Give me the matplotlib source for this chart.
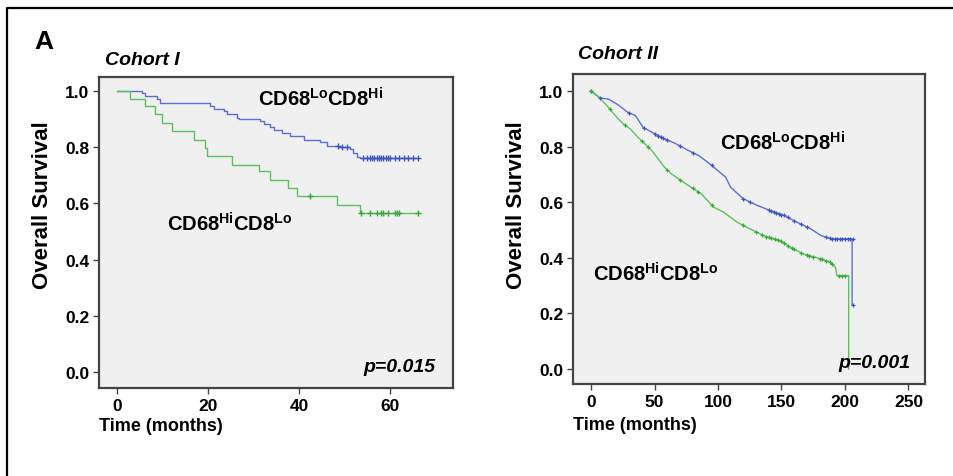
import matplotlib
matplotlib.use('Agg')
import matplotlib.pyplot as plt
from matplotlib.lines import Line2D
import numpy as np

# Cohort I (step curves)
c1_lo_t = [0, 5.4, 6.2, 8.7, 9.5, 20.3, 21.2, 23.4, 24.1, 26.3, 26.7, 31.4, 32.2, 33.6,
           34.4, 36.2, 38.0, 41.0, 44.6, 46.1, 48.6, 51.2, 51.9, 52.7, 53.4, 66.2]
c1_lo_s = [1.0, 0.992, 0.982, 0.970, 0.956, 0.946, 0.937, 0.929, 0.917, 0.905, 0.899, 0.893,
           0.883, 0.873, 0.863, 0.851, 0.839, 0.827, 0.818, 0.806, 0.801, 0.792, 0.780, 0.765,
           0.760, 0.760]
c1_lo_cens = [48.5, 49.5, 50.5, 54, 55, 55.5, 56, 56.5, 57, 57.5, 58, 58.5, 59, 59.5, 60,
              61, 62, 63, 64, 65, 66.2]
c1_hi_t = [0, 2.9, 6.2, 8.4, 9.8, 12.0, 16.8, 19.3, 19.7, 25.2, 31.1, 33.6, 37.6, 39.5,
           48.3, 53.4, 66.2]
c1_hi_s = [1.0, 0.973, 0.946, 0.917, 0.887, 0.857, 0.827, 0.798, 0.768, 0.738, 0.714, 0.685,
           0.655, 0.627, 0.595, 0.565, 0.565]
c1_hi_cens = [42.4, 53.6, 55.5, 57, 58, 58.5, 59.5, 61, 61.5, 62, 66.2]

# Cohort II
c2_lo_t = [0, 7, 14, 21, 29, 35, 41, 48, 58, 66, 77, 85, 92, 100, 106, 110, 120, 131, 141,
           152, 162, 173, 181, 189, 205.6, 205.6, 206.5]
c2_lo_s = [1.0, 0.975, 0.970, 0.951, 0.923, 0.911, 0.869, 0.851, 0.827, 0.812, 0.785, 0.767,
           0.743, 0.713, 0.690, 0.653, 0.612, 0.588, 0.570, 0.552, 0.528, 0.504, 0.480, 0.468,
           0.468, 0.230, 0.230]
c2_lo_cens = [0, 7, 30, 42, 50, 53, 55, 57, 60, 70, 80, 95, 120, 125, 140, 142, 144, 146,
              148, 150, 152, 155, 160, 165, 170, 185, 188, 190, 192, 194, 196, 198, 200, 202,
              204, 206.5]
c2_hi_t = [0, 7, 11, 16, 21.5, 25.5, 31, 37, 42.5, 48, 53, 58, 63.5, 71, 79, 87, 96.5, 104.4,
           115, 125, 139, 149, 157, 167, 178, 188.5, 192.5, 193.7, 202.9, 202.9]
c2_hi_s = [1.0, 0.973, 0.955, 0.928, 0.899, 0.881, 0.863, 0.833, 0.809, 0.785, 0.755, 0.725,
           0.701, 0.677, 0.653, 0.629, 0.582, 0.564, 0.528, 0.504, 0.474, 0.462, 0.438, 0.414,
           0.400, 0.384, 0.366, 0.336, 0.336, 0.0]
c2_hi_cens = [0, 15, 27, 40, 45, 60, 70, 80, 84, 95, 120, 130, 135, 138, 140, 142, 145, 147,
              150, 152, 155, 158, 160, 165, 170, 172, 175, 180, 182, 185, 188, 190, 195, 198, 200]

y_ticks = [0.0, 0.2, 0.4, 0.6, 0.8, 1.0]
c1_x_ticks = [0, 20, 40, 60]
c2_x_ticks = [0, 50, 100, 150, 200, 250]

blue = '#5b6fcc'
blue_dark = '#3f55bd'
green = '#5cc25c'
green_dark = '#38a838'

plt.rcParams['font.family'] = ['Liberation Sans', 'DejaVu Sans']
plt.rcParams['font.weight'] = 'bold'
plt.rcParams['mathtext.fontset'] = 'custom'
plt.rcParams['mathtext.rm'] = 'Liberation Sans:bold'
plt.rcParams['mathtext.bf'] = 'Liberation Sans:bold'

lo_label = r'$\mathbf{CD68}^{\mathbf{Lo}}\mathbf{CD8}^{\mathbf{Hi}}$'
hi_label = r'$\mathbf{CD68}^{\mathbf{Hi}}\mathbf{CD8}^{\mathbf{Lo}}$'


def style_axes(ax, xlim, ylim, xticks, xlab_y):
    ax.set_facecolor('#f0f0f0')
    for sp in ax.spines.values():
        sp.set_color('#444444')
        sp.set_linewidth(1.6)
    ax.set_xlim(*xlim)
    ax.set_ylim(*ylim)
    ax.set_xticks(xticks)
    ax.set_yticks(y_ticks)
    ax.set_yticklabels(['%.1f' % v for v in y_ticks])
    ax.tick_params(direction='out', length=4, width=1, color='#444444',
                   labelsize=12.5, pad=3)
    for lab in ax.get_xticklabels() + ax.get_yticklabels():
        lab.set_fontweight('bold')
    ax.set_xlabel('Time (months)', fontsize=13, fontweight='bold', loc='left')
    ax.xaxis.set_label_coords(0.0, xlab_y)
    ax.set_ylabel('Overall Survival', fontsize=16, fontweight='bold')


def step_cens(t, s, c):
    idx = np.searchsorted(t, c, side='right') - 1
    return np.array(s)[idx]


fig = plt.figure(figsize=(9.54, 4.77), dpi=100)

# outer frame (left + top only)
fig.add_artist(Line2D([0.0073, 0.0073, 1.0], [0.0, 0.981, 0.981], color='black',
                      lw=1.6, transform=fig.transFigure))
fig.text(0.046, 0.912, 'A', ha='center', va='center', fontsize=19, fontweight='bold')

# --- Cohort I ---
ax1 = fig.add_axes([0.1038, 0.1845, 0.371, 0.652])
ax1.plot(c1_lo_t, c1_lo_s, drawstyle='steps-post', color=blue, lw=1)
ax1.plot(c1_hi_t, c1_hi_s, drawstyle='steps-post', color=green, lw=1)
ax1.plot(c1_lo_cens, step_cens(c1_lo_t, c1_lo_s, c1_lo_cens), '+', color=blue_dark,
         ms=4, mew=1)
ax1.plot(c1_hi_cens, step_cens(c1_hi_t, c1_hi_s, c1_hi_cens), '+', color=green_dark,
         ms=4, mew=1)
style_axes(ax1, (-4, 73.8), (-0.057, 1.05), c1_x_ticks, -0.093)
ax1.yaxis.set_label_coords(-0.13, 0.59)
ax1.text(31, 0.975, lo_label, fontsize=14.5, ha='left', va='center')
ax1.text(11, 0.53, hi_label, fontsize=14.5, ha='left', va='center')
ax1.text(69.9, 0.02, 'p=0.015', fontsize=14, ha='right', va='center',
         fontweight='bold', style='italic')
fig.text(0.110, 0.874, 'Cohort I', fontsize=14, fontweight='bold', style='italic',
         ha='left', va='center')

# --- Cohort II ---
ax2 = fig.add_axes([0.6006, 0.1929, 0.369, 0.650])
ax2.plot(c2_lo_t, c2_lo_s, color=blue, lw=1)
ax2.plot(c2_hi_t, c2_hi_s, color=green, lw=1)
ax2.plot(c2_lo_cens, np.interp(c2_lo_cens, c2_lo_t[:-2], c2_lo_s[:-2]), '+',
         color=blue_dark, ms=3, mew=0.9)
ax2.plot([c2_lo_t[-1]], [c2_lo_s[-1]], '+', color=blue_dark, ms=3, mew=0.9)
ax2.plot(c2_hi_cens, np.interp(c2_hi_cens, c2_hi_t[:-1], c2_hi_s[:-1]), '+',
         color=green_dark, ms=3, mew=0.9)
style_axes(ax2, (-14.2, 263), (-0.054, 1.061), c2_x_ticks, -0.103)
ax2.yaxis.set_label_coords(-0.131, 0.58)
ax2.text(101.7, 0.817, lo_label, fontsize=14.5, ha='left', va='center')
ax2.text(1.6, 0.345, hi_label, fontsize=14.5, ha='left', va='center')
ax2.text(251.6, 0.025, 'p=0.001', fontsize=14, ha='right', va='center',
         fontweight='bold', style='italic')
fig.text(0.606, 0.885, 'Cohort II', fontsize=14, fontweight='bold', style='italic',
         ha='left', va='center')

plt.savefig('out.png', dpi=100)
